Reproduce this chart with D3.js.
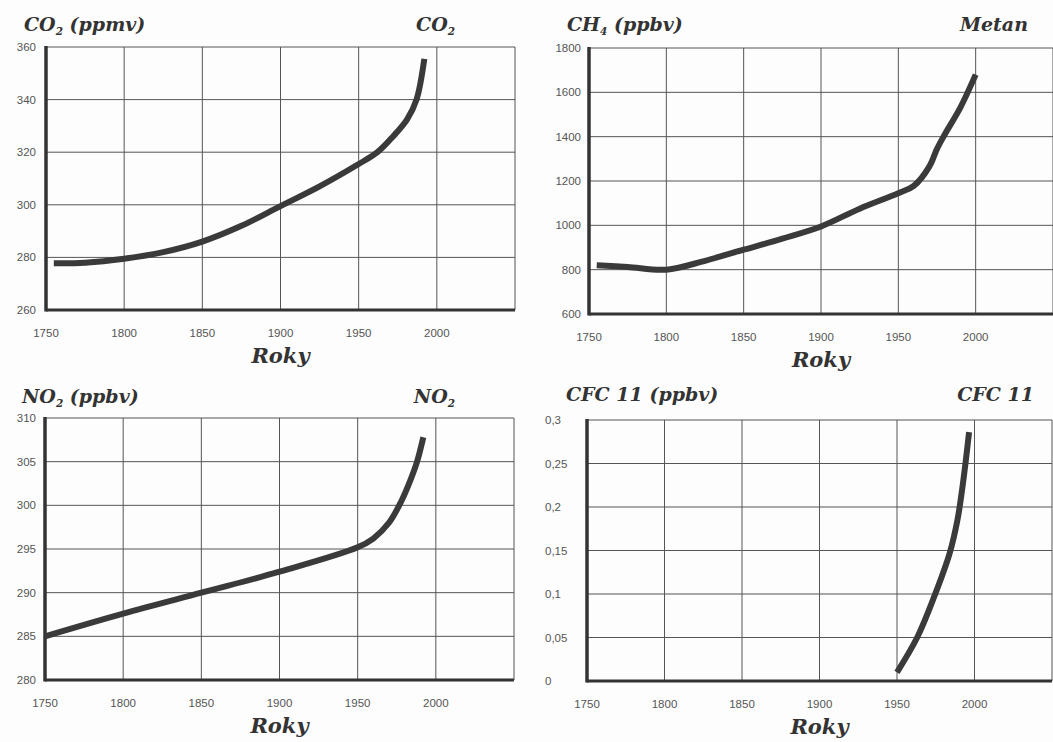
<!DOCTYPE html>
<html>
<head>
<meta charset="utf-8">
<script src="https://cdn.jsdelivr.net/npm/d3@7"></script>
<style>
  body { margin: 0; background: #fdfdfd; }
  svg { display: block; }
</style>
</head>
<body>
<svg id="chart" width="1053" height="742"></svg>
<script>
// data
const xTicks = [1750, 1800, 1850, 1900, 1950, 2000];

const co2Years = [1755, 1775, 1800, 1825, 1850, 1875, 1900, 1925, 1950, 1962, 1972, 1981, 1987, 1992];
const co2Values = [277.8, 278, 279.5, 282, 286, 292, 299.5, 307, 315.5, 320, 326, 332.5, 340, 355.5];
const co2Ticks = [260, 280, 300, 320, 340, 360];

const ch4Years = [1755, 1775, 1800, 1825, 1850, 1875, 1900, 1925, 1950, 1960, 1970, 1975, 1980, 1990, 2000];
const ch4Values = [820, 812, 800, 840, 890, 940, 995, 1075, 1145, 1178, 1265, 1345, 1410, 1530, 1680];
const ch4Ticks = [600, 800, 1000, 1200, 1400, 1600, 1800];

const no2Years = [1750, 1800, 1850, 1900, 1950, 1960, 1970, 1978, 1984, 1988, 1992];
const no2Values = [285, 287.6, 290, 292.4, 295.2, 296.2, 298, 300.5, 303, 305, 307.8];
const no2Ticks = [280, 285, 290, 295, 300, 305, 310];

const cfcYears = [1950, 1963, 1974, 1984, 1989, 1992, 1994.5, 1996.5];
const cfcValues = [0.01, 0.05, 0.097, 0.147, 0.185, 0.22, 0.255, 0.286];
const cfcTicks = [0, 0.05, 0.1, 0.15, 0.2, 0.25, 0.3];

const titlesLeft = ["CO_2 (ppmv)", "CH_4 (ppbv)", "NO_2 (ppbv)", "CFC 11 (ppbv)"];
const titlesRight = ["CO_2", "Metan", "NO_2", "CFC 11"];
const xLabel = "Roky";

const svg = d3.select("#chart");
const czech = d3.formatLocale({ decimal: ",", thousands: " ", grouping: [3], currency: ["", ""] });
const fmt = czech.format("~g");

const titleFont = "'DejaVu Serif', serif";
const tickFont = "'Liberation Sans', Arial, sans-serif";

function richText(sel, str) {
  // "_" marks one subscript digit
  const parts = str.split(/_(\d)/);
  let shift = 0;
  parts.forEach((p, i) => {
    if (p === "") return;
    if (i % 2 === 1) {
      sel.append("tspan").attr("dy", 4).attr("font-size", "0.55em").text(p);
      shift = -4;
    } else {
      sel.append("tspan").attr("dy", shift).text(p);
      shift = 0;
    }
  });
}

function drawPanel(o) {
  const g = svg.append("g");
  const x = d3.scaleLinear().domain([1750, 2050]).range([o.left, o.right]);
  const y = d3.scaleLinear().domain(d3.extent(o.ticks)).range([o.bottom, o.top]);

  // grid
  g.selectAll(".vg").data(xTicks.slice(1).concat([2050])).join("line")
    .attr("x1", d => x(d)).attr("x2", d => x(d))
    .attr("y1", o.top).attr("y2", o.bottom)
    .attr("stroke", "#555").attr("stroke-width", 1);
  g.selectAll(".hg").data(o.ticks.slice(1)).join("line")
    .attr("x1", o.left).attr("x2", o.right)
    .attr("y1", d => y(d)).attr("y2", d => y(d))
    .attr("stroke", "#555").attr("stroke-width", 1);

  // thick axes
  g.append("line").attr("x1", o.left).attr("x2", o.left)
    .attr("y1", o.top - 1).attr("y2", o.bottom + 1.5)
    .attr("stroke", "#333").attr("stroke-width", 3.5);
  g.append("line").attr("x1", o.left).attr("x2", o.right)
    .attr("y1", o.bottom).attr("y2", o.bottom)
    .attr("stroke", "#333").attr("stroke-width", 3);

  // tick labels
  g.selectAll(".yl").data(o.ticks).join("text")
    .attr("x", o.yLabelX).attr("y", d => y(d) + 4)
    .attr("text-anchor", o.yAnchor)
    .attr("font-family", tickFont).attr("font-size", 11.5)
    .attr("fill", "#555").text(d => fmt(d));
  g.selectAll(".xl").data(xTicks).join("text")
    .attr("x", d => x(d)).attr("y", o.bottom + 27)
    .attr("text-anchor", "middle")
    .attr("font-family", tickFont).attr("font-size", 11.5)
    .attr("fill", "#555").text(d => d);

  // series
  const line = d3.line()
    .x(d => x(d[0])).y(d => y(d[1]))
    .curve(d3.curveCatmullRom.alpha(0.5));
  g.append("path")
    .datum(d3.zip(o.years, o.values))
    .attr("d", line)
    .attr("fill", "none").attr("stroke", "#3a3a3a")
    .attr("stroke-width", 6).attr("stroke-linecap", "butt");

  // titles
  const tl = g.append("text").attr("x", o.titleX).attr("y", o.titleY)
    .attr("font-family", titleFont).attr("font-weight", "bold").attr("font-style", "italic")
    .attr("font-size", 19).attr("fill", "#333");
  richText(tl, o.title);
  const tr = g.append("text").attr("x", o.rightTitleX).attr("y", o.titleY)
    .attr("text-anchor", "end")
    .attr("font-family", titleFont).attr("font-weight", "bold").attr("font-style", "italic")
    .attr("font-size", 19).attr("fill", "#333");
  richText(tr, o.rightTitle);

  g.append("text").attr("x", (o.left + o.right) / 2).attr("y", o.bottom + 53)
    .attr("text-anchor", "middle")
    .attr("font-family", titleFont).attr("font-weight", "bold").attr("font-style", "italic")
    .attr("font-size", 21).attr("fill", "#333").text(xLabel);
}

drawPanel({ left: 46, right: 515, top: 47, bottom: 310, ticks: co2Ticks,
  years: co2Years, values: co2Values, yLabelX: 36, yAnchor: "end",
  title: titlesLeft[0], rightTitle: titlesRight[0], titleX: 24, rightTitleX: 455, titleY: 31 });
drawPanel({ left: 589, right: 1053, top: 48, bottom: 314, ticks: ch4Ticks,
  years: ch4Years, values: ch4Values, yLabelX: 581, yAnchor: "end",
  title: titlesLeft[1], rightTitle: titlesRight[1], titleX: 567, rightTitleX: 1028, titleY: 31 });
drawPanel({ left: 45, right: 514, top: 418, bottom: 680, ticks: no2Ticks,
  years: no2Years, values: no2Values, yLabelX: 36, yAnchor: "end",
  title: titlesLeft[2], rightTitle: titlesRight[2], titleX: 22, rightTitleX: 455, titleY: 403 });
drawPanel({ left: 587, right: 1052, top: 420, bottom: 681, ticks: cfcTicks,
  years: cfcYears, values: cfcValues, yLabelX: 545, yAnchor: "start",
  title: titlesLeft[3], rightTitle: titlesRight[3], titleX: 566, rightTitleX: 1034, titleY: 401 });
</script>
</body>
</html>
